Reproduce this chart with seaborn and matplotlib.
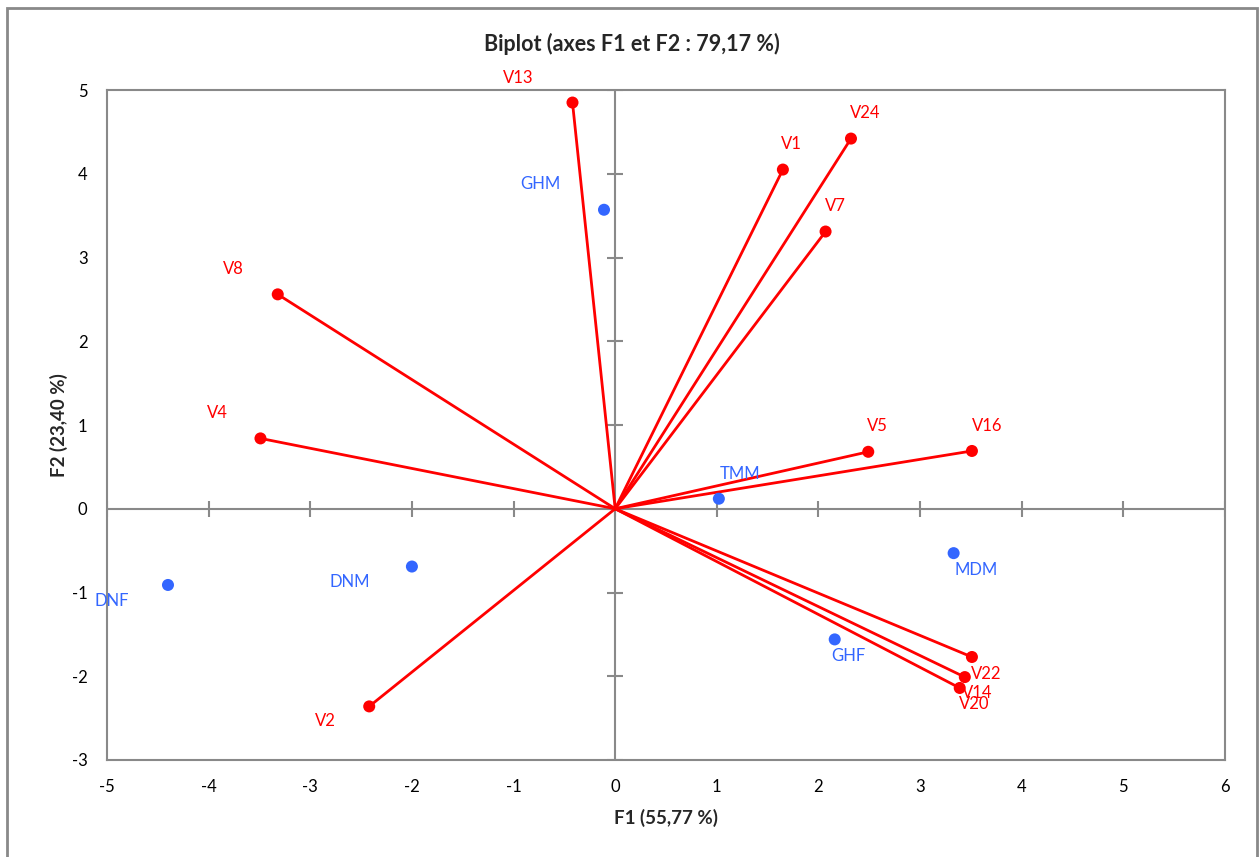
import matplotlib
matplotlib.use("Agg")
import matplotlib.pyplot as plt
import seaborn as sns
import pandas as pd
from matplotlib.patches import Rectangle

# Variable loadings (F1, F2)
var_names = ["V13", "V1", "V24", "V7", "V8", "V4", "V5", "V16", "V2", "V22", "V14", "V20"]
var_f1 = [-0.42, 1.65, 2.32, 2.07, -3.32, -3.49, 2.49, 3.51, -2.42, 3.51, 3.44, 3.39]
var_f2 = [4.85, 4.05, 4.42, 3.31, 2.56, 0.84, 0.68, 0.69, -2.36, -1.77, -2.01, -2.14]

# Observation scores (F1, F2)
obs_names = ["GHM", "TMM", "MDM", "GHF", "DNM", "DNF"]
obs_f1 = [-0.11, 1.02, 3.33, 2.16, -2.00, -4.40]
obs_f2 = [3.57, 0.12, -0.53, -1.56, -0.69, -0.91]

x_ticks = [-5, -4, -3, -2, -1, 0, 1, 2, 3, 4, 5, 6]
y_ticks = [-3, -2, -1, 0, 1, 2, 3, 4, 5]

# label offsets in pixels (dx, dy)
var_offsets = {"V13": (-54, 25), "V1": (9, 26), "V24": (14, 26), "V7": (10, 26),
               "V8": (-44, 25), "V4": (-43, 25), "V5": (9, 26), "V16": (15, 25),
               "V2": (-44, -15), "V22": (14, -17), "V14": (12, -16), "V20": (14, -16)}
obs_offsets = {"GHM": (-64, 26), "TMM": (21, 25), "MDM": (22, -17), "GHF": (14, -17),
               "DNM": (-62, -15), "DNF": (-56, -16)}

sns.set_theme(style="white")
plt.rcParams["font.family"] = ["Lato", "DejaVu Sans"]

RED = "#FF0000"
BLUE = "#3366FF"
GRAY = "#898989"

fig = plt.figure(figsize=(12.6, 8.57), dpi=100)
ax = fig.add_axes([107 / 1260, 97 / 857, 1118 / 1260, 670 / 857])

# central axes with crossing tick marks
ax.axhline(0, color=GRAY, lw=1.5, zorder=1)
ax.axvline(0, color=GRAY, lw=1.5, zorder=1)
ax.plot(x_ticks, [0] * len(x_ticks), ls="none", marker="|", ms=11, mew=1.5, color=GRAY, zorder=1)
ax.plot([0] * len(y_ticks), y_ticks, ls="none", marker="_", ms=11, mew=1.5, color=GRAY, zorder=1)

# loading vectors
for x, y in zip(var_f1, var_f2):
    ax.plot([0, x], [0, y], color=RED, lw=2, zorder=2, solid_capstyle="round")

vars_df = pd.DataFrame({"F1": var_f1, "F2": var_f2, "name": var_names})
obs_df = pd.DataFrame({"F1": obs_f1, "F2": obs_f2, "name": obs_names})

sns.scatterplot(data=vars_df, x="F1", y="F2", color=RED, s=75, edgecolor="none", ax=ax, zorder=3)
sns.scatterplot(data=obs_df, x="F1", y="F2", color=BLUE, s=75, edgecolor="none", ax=ax, zorder=3)

for n, x, y in zip(var_names, var_f1, var_f2):
    ax.annotate(n, (x, y), xytext=var_offsets[n], textcoords="offset pixels",
                ha="center", va="center", color=RED, fontsize=12, zorder=4)
for n, x, y in zip(obs_names, obs_f1, obs_f2):
    ax.annotate(n, (x, y), xytext=obs_offsets[n], textcoords="offset pixels",
                ha="center", va="center", color=BLUE, fontsize=12, zorder=4)

ax.set_xlim(-5, 6)
ax.set_ylim(-3, 5)
ax.set_xticks(x_ticks)
ax.set_yticks(y_ticks)
ax.set_xticklabels([str(t) for t in x_ticks])
ax.set_yticklabels([str(t) for t in y_ticks])
ax.tick_params(axis="both", length=0, labelsize=12, colors="#000000")
ax.tick_params(axis="x", pad=14)
ax.tick_params(axis="y", pad=14)
for s in ax.spines.values():
    s.set_color(GRAY)
    s.set_linewidth(1.5)
    s.set_visible(True)

ax.set_xlabel("F1 (55,77 %)", fontsize=13.5, fontweight="bold", labelpad=10)
ax.set_ylabel("F2 (23,40 %)", fontsize=13.5, fontweight="bold", labelpad=3)

# chart title, centred on the whole chart area
fig.text(0.5015, 1 - 44 / 857, "Biplot (axes F1 et F2 : 79,17 %)", fontsize=15.5,
         fontweight="bold", ha="center", va="center")

# chart area border
fig.patches.append(Rectangle((7 / 1260, -0.05), 1250 / 1260, 1.05 - 8 / 857,
                             transform=fig.transFigure, fill=False,
                             edgecolor=GRAY, lw=2))

fig.savefig("out.png", dpi=100)
